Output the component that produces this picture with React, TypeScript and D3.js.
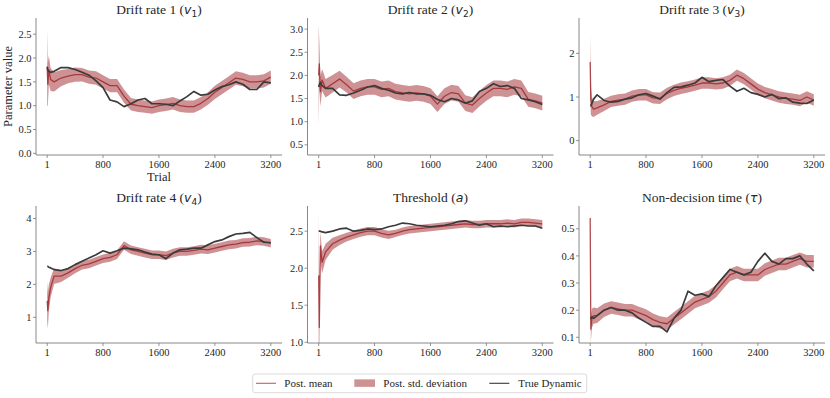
import React from "react";
import * as d3 from "d3";

const TRIALS = [1, 10, 25, 50, 100, 200, 300, 400, 500, 600, 700, 800, 900, 1000, 1100, 1200, 1300, 1400, 1500, 1600, 1700, 1800, 1900, 2000, 2100, 2200, 2300, 2400, 2500, 2600, 2700, 2800, 2900, 3000, 3100, 3200];
const X_TICKS = [1, 800, 1600, 2400, 3200];

const V1_TRUE = [1.82, 1.75, 1.72, 1.70, 1.72, 1.80, 1.80, 1.76, 1.70, 1.64, 1.52, 1.38, 1.12, 1.08, 0.98, 1.04, 1.12, 1.15, 1.04, 1.04, 1.03, 1.00, 1.10, 1.19, 1.30, 1.22, 1.24, 1.33, 1.40, 1.44, 1.50, 1.45, 1.34, 1.34, 1.50, 1.48];
const V1_MEAN = [1.80, 1.45, 1.75, 1.55, 1.50, 1.58, 1.62, 1.65, 1.65, 1.60, 1.58, 1.50, 1.42, 1.42, 1.20, 1.03, 1.00, 0.98, 0.96, 1.00, 1.02, 1.05, 1.00, 0.98, 0.98, 1.05, 1.15, 1.28, 1.38, 1.48, 1.58, 1.55, 1.50, 1.50, 1.52, 1.60];
const V1_SD = [0.80, 0.45, 0.30, 0.24, 0.20, 0.17, 0.15, 0.15, 0.14, 0.14, 0.14, 0.14, 0.14, 0.14, 0.14, 0.13, 0.13, 0.13, 0.13, 0.13, 0.13, 0.13, 0.13, 0.13, 0.13, 0.13, 0.13, 0.14, 0.14, 0.14, 0.14, 0.14, 0.14, 0.14, 0.14, 0.14];

const V2_TRUE = [1.75, 1.80, 1.85, 1.78, 1.72, 1.72, 1.58, 1.57, 1.62, 1.68, 1.75, 1.78, 1.72, 1.68, 1.62, 1.60, 1.63, 1.60, 1.60, 1.57, 1.48, 1.43, 1.50, 1.47, 1.40, 1.45, 1.65, 1.72, 1.82, 1.76, 1.78, 1.72, 1.50, 1.47, 1.43, 1.37];
const V2_MEAN = [2.00, 2.25, 1.65, 1.90, 1.72, 1.82, 1.92, 1.80, 1.66, 1.72, 1.75, 1.75, 1.70, 1.72, 1.65, 1.62, 1.60, 1.62, 1.60, 1.55, 1.38, 1.55, 1.63, 1.60, 1.40, 1.36, 1.50, 1.62, 1.72, 1.72, 1.70, 1.75, 1.72, 1.48, 1.45, 1.40];
const V2_SD = [1.10, 0.50, 0.32, 0.24, 0.20, 0.19, 0.18, 0.17, 0.17, 0.17, 0.17, 0.17, 0.17, 0.17, 0.17, 0.17, 0.17, 0.17, 0.17, 0.17, 0.17, 0.17, 0.17, 0.17, 0.17, 0.17, 0.17, 0.17, 0.17, 0.17, 0.17, 0.17, 0.17, 0.16, 0.16, 0.16];

const V3_TRUE = [0.80, 0.80, 0.85, 0.95, 1.05, 0.92, 0.88, 0.90, 0.95, 0.98, 1.05, 1.08, 1.02, 0.95, 1.10, 1.22, 1.23, 1.27, 1.32, 1.45, 1.35, 1.38, 1.40, 1.25, 1.13, 1.20, 1.10, 1.06, 1.00, 1.06, 0.96, 0.98, 0.88, 0.86, 0.85, 0.93];
const V3_MEAN = [1.80, 0.95, 0.78, 0.72, 0.75, 0.82, 0.90, 0.93, 0.95, 1.02, 1.05, 1.05, 0.98, 0.97, 1.08, 1.15, 1.20, 1.23, 1.27, 1.32, 1.32, 1.30, 1.32, 1.38, 1.50, 1.42, 1.30, 1.18, 1.10, 1.05, 1.00, 0.97, 0.95, 0.92, 1.00, 0.93];
const V3_SD = [0.65, 0.35, 0.22, 0.18, 0.16, 0.14, 0.13, 0.13, 0.13, 0.13, 0.13, 0.13, 0.13, 0.13, 0.13, 0.13, 0.13, 0.13, 0.13, 0.13, 0.13, 0.13, 0.13, 0.13, 0.13, 0.13, 0.13, 0.13, 0.13, 0.13, 0.13, 0.13, 0.13, 0.13, 0.13, 0.13];

const V4_TRUE = [2.55, 2.55, 2.52, 2.50, 2.45, 2.42, 2.48, 2.60, 2.70, 2.80, 2.90, 3.02, 2.95, 3.02, 3.10, 3.08, 3.05, 2.98, 2.92, 2.90, 2.78, 2.95, 3.05, 3.07, 3.10, 3.10, 3.20, 3.30, 3.35, 3.45, 3.53, 3.55, 3.58, 3.42, 3.28, 3.27];
const V4_MEAN = [1.50, 1.20, 1.60, 1.90, 2.25, 2.25, 2.35, 2.48, 2.58, 2.62, 2.70, 2.78, 2.82, 2.90, 3.18, 3.05, 3.00, 2.95, 2.90, 2.90, 2.87, 2.95, 3.00, 3.00, 3.03, 3.07, 3.05, 3.10, 3.15, 3.20, 3.22, 3.27, 3.28, 3.32, 3.30, 3.25];
const V4_SD = [0.60, 0.55, 0.40, 0.30, 0.24, 0.18, 0.15, 0.14, 0.13, 0.13, 0.13, 0.13, 0.13, 0.13, 0.13, 0.13, 0.13, 0.13, 0.13, 0.13, 0.13, 0.13, 0.13, 0.13, 0.13, 0.13, 0.13, 0.13, 0.13, 0.13, 0.13, 0.13, 0.13, 0.13, 0.13, 0.13];

const A_TRUE = [2.50, 2.50, 2.50, 2.49, 2.48, 2.50, 2.53, 2.54, 2.50, 2.51, 2.53, 2.52, 2.53, 2.56, 2.58, 2.61, 2.60, 2.58, 2.57, 2.56, 2.57, 2.58, 2.60, 2.63, 2.64, 2.61, 2.58, 2.60, 2.56, 2.57, 2.56, 2.57, 2.58, 2.57, 2.57, 2.54];
const A_MEAN = [1.90, 1.20, 2.30, 2.08, 2.22, 2.33, 2.38, 2.42, 2.45, 2.48, 2.50, 2.50, 2.47, 2.45, 2.47, 2.50, 2.52, 2.53, 2.54, 2.55, 2.56, 2.57, 2.58, 2.59, 2.60, 2.59, 2.59, 2.60, 2.60, 2.60, 2.61, 2.60, 2.62, 2.62, 2.61, 2.60];
const A_SD = [0.90, 0.35, 0.20, 0.15, 0.11, 0.08, 0.065, 0.06, 0.055, 0.055, 0.055, 0.055, 0.055, 0.055, 0.05, 0.05, 0.05, 0.05, 0.05, 0.05, 0.05, 0.05, 0.05, 0.05, 0.05, 0.05, 0.05, 0.05, 0.05, 0.05, 0.05, 0.05, 0.05, 0.05, 0.05, 0.05];

const TAU_TRUE = [0.17, 0.17, 0.175, 0.17, 0.18, 0.20, 0.21, 0.20, 0.20, 0.19, 0.17, 0.155, 0.14, 0.14, 0.12, 0.17, 0.20, 0.27, 0.255, 0.26, 0.25, 0.29, 0.32, 0.35, 0.34, 0.33, 0.34, 0.38, 0.41, 0.38, 0.37, 0.39, 0.39, 0.40, 0.37, 0.345];
const TAU_MEAN = [0.54, 0.13, 0.17, 0.18, 0.18, 0.20, 0.21, 0.205, 0.20, 0.20, 0.19, 0.18, 0.165, 0.155, 0.15, 0.17, 0.19, 0.21, 0.23, 0.24, 0.25, 0.27, 0.30, 0.33, 0.34, 0.33, 0.33, 0.33, 0.35, 0.36, 0.37, 0.37, 0.38, 0.39, 0.38, 0.38];
const TAU_SD = [0.04, 0.05, 0.035, 0.03, 0.027, 0.025, 0.023, 0.023, 0.023, 0.023, 0.023, 0.023, 0.023, 0.023, 0.023, 0.023, 0.023, 0.023, 0.023, 0.023, 0.023, 0.023, 0.023, 0.023, 0.023, 0.023, 0.023, 0.023, 0.023, 0.023, 0.023, 0.023, 0.023, 0.023, 0.023, 0.023];

const TITLES = ["Drift rate 1 (", "Drift rate 2 (", "Drift rate 3 (", "Drift rate 4 (", "Threshold (", "Non-decision time ("];
const SYMBOLS = ["v", "v", "v", "v", "a", "τ"];
const SUBS = ["1", "2", "3", "4", "", ""];
const Y_TICKS = [
  [0, 0.5, 1, 1.5, 2, 2.5],
  [0.5, 1, 1.5, 2, 2.5, 3],
  [0, 1, 2],
  [1, 2, 3, 4],
  [1, 1.5, 2, 2.5],
  [0.1, 0.2, 0.3, 0.4, 0.5],
];
const Y_FMT = [".1f", ".1f", ".0f", ".0f", ".1f", ".1f"];
const Y_DOMAINS = [
  [-0.035, 2.84],
  [0.28, 3.24],
  [-0.33, 2.81],
  [0.22, 4.38],
  [0.99, 2.84],
  [0.079, 0.584],
];
const MEANS = [V1_MEAN, V2_MEAN, V3_MEAN, V4_MEAN, A_MEAN, TAU_MEAN];
const SDS = [V1_SD, V2_SD, V3_SD, V4_SD, A_SD, TAU_SD];
const TRUES = [V1_TRUE, V2_TRUE, V3_TRUE, V4_TRUE, A_TRUE, TAU_TRUE];
const LEGEND_LABELS = ["Post. mean", "Post. std. deviation", "True Dynamic"];

const W = 830;
const H = 398;
const COL_LEFT = [36, 307.5, 579];
const PW = 246;
const ROW_TOP = [18, 206];
const PH = 137;

const SERIF = "'Liberation Serif', 'Times New Roman', serif";
const MATH = "'DejaVu Sans', sans-serif";
const SPINE = "#7a7a7a";
const TXT = "#262626";
const BAND = "#b5585b";
const MEAN_C = "#9c2328";
const TRUE_C = "#3a3a3a";

function Panel({ idx }: { idx: number }) {
  const col = idx % 3;
  const row = Math.floor(idx / 3);
  const left = COL_LEFT[col];
  const top = ROW_TOP[row];
  const pad = (3200 - 1) * 0.05;
  const x = d3.scaleLinear().domain([1 - pad, 3200 + pad]).range([left, left + PW]);
  const y = d3.scaleLinear().domain(Y_DOMAINS[idx]).range([top + PH, top]);
  const mean = MEANS[idx];
  const sd = SDS[idx];
  const tru = TRUES[idx];
  const band = d3
    .area<number>()
    .x((_, i) => x(TRIALS[i]))
    .y0((d, i) => y(d - sd[i]))
    .y1((d, i) => y(d + sd[i]))(mean);
  const line = d3.line<number>().x((_, i) => x(TRIALS[i])).y((d) => y(d));
  const fmt = d3.format(Y_FMT[idx]);
  const clipId = `clip${idx}`;
  const cx = left + PW / 2;
  return (
    <g>
      <defs>
        <clipPath id={clipId}>
          <rect x={left} y={top} width={PW} height={PH} />
        </clipPath>
      </defs>
      <g clipPath={`url(#${clipId})`}>
        <path d={band || ""} fill={BAND} fillOpacity={0.65} stroke="none" />
        <path d={line(mean) || ""} fill="none" stroke={MEAN_C} strokeOpacity={0.8} strokeWidth={1.3} strokeLinejoin="round" />
        <path d={line(tru) || ""} fill="none" stroke={TRUE_C} strokeWidth={1.7} strokeLinejoin="round" />
      </g>
      <line x1={left} x2={left} y1={top} y2={top + PH} stroke={SPINE} strokeWidth={0.9} />
      <line x1={left} x2={left + PW} y1={top + PH} y2={top + PH} stroke={SPINE} strokeWidth={0.9} />
      {Y_TICKS[idx].map((t) => (
        <g key={"y" + t}>
          <line x1={left - 3} x2={left} y1={y(t)} y2={y(t)} stroke={SPINE} strokeWidth={0.8} />
          <text x={left - 4.5} y={y(t)} dy="0.35em" textAnchor="end" fontFamily={SERIF} fontSize={10.5} fill={TXT}>
            {fmt(t)}
          </text>
        </g>
      ))}
      {X_TICKS.map((t) => (
        <g key={"x" + t}>
          <line x1={x(t)} x2={x(t)} y1={top + PH} y2={top + PH + 3} stroke={SPINE} strokeWidth={0.8} />
          <text x={x(t)} y={top + PH + 12.5} textAnchor="middle" fontFamily={SERIF} fontSize={10.5} fill={TXT}>
            {t}
          </text>
        </g>
      ))}
      <text x={cx} y={top - 4} textAnchor="middle" fontFamily={SERIF} fontSize={13.5} fill={TXT}>
        {TITLES[idx]}
        <tspan fontFamily={MATH} fontStyle="italic" fontSize={12.5}>{SYMBOLS[idx]}</tspan>
        {SUBS[idx] ? (
          <tspan fontFamily={MATH} fontSize={9} dy={2.5}>{SUBS[idx]}</tspan>
        ) : null}
        <tspan dy={SUBS[idx] ? -2.5 : 0}>)</tspan>
      </text>
      {idx === 0 ? (
        <>
          <text x={cx} y={top + PH + 26} textAnchor="middle" fontFamily={SERIF} fontSize={12.5} fill={TXT}>
            Trial
          </text>
          <text
            transform={`translate(${12},${top + PH / 2}) rotate(-90)`}
            textAnchor="middle"
            fontFamily={SERIF}
            fontSize={12.5}
            fill={TXT}
          >
            Parameter value
          </text>
        </>
      ) : null}
    </g>
  );
}

function Legend() {
  const bx = 252.7;
  const by = 374;
  const bw = 334;
  const bh = 18.7;
  const cy = by + bh / 2;
  return (
    <g>
      <rect x={bx} y={by} width={bw} height={bh} rx={2.5} fill="#fff" stroke="#d0d0d0" strokeWidth={0.8} />
      <line x1={256} x2={276} y1={cy} y2={cy} stroke={MEAN_C} strokeOpacity={0.6} strokeWidth={1.3} />
      <text x={284.3} y={cy} dy="0.35em" fontFamily={SERIF} fontSize={11} fill={TXT}>{LEGEND_LABELS[0]}</text>
      <rect x={354.3} y={cy - 4} width={20.7} height={7.5} fill={BAND} fillOpacity={0.65} />
      <text x={383.3} y={cy} dy="0.35em" fontFamily={SERIF} fontSize={11} fill={TXT}>{LEGEND_LABELS[1]}</text>
      <line x1={489.3} x2={509.3} y1={cy} y2={cy} stroke={TRUE_C} strokeOpacity={0.85} strokeWidth={1.3} />
      <text x={518.3} y={cy} dy="0.35em" fontFamily={SERIF} fontSize={11} fill={TXT}>{LEGEND_LABELS[2]}</text>
    </g>
  );
}

export default function App() {
  return (
    <svg
      width={W}
      height={H}
      viewBox={`0 0 ${W} ${H}`}
      style={{ position: "absolute", left: 0, top: 0, background: "#fff" }}
    >
      <rect x={0} y={0} width={W} height={H} fill="#fff" />
      {[0, 1, 2, 3, 4, 5].map((i) => (
        <Panel key={i} idx={i} />
      ))}
      <Legend />
    </svg>
  );
}
